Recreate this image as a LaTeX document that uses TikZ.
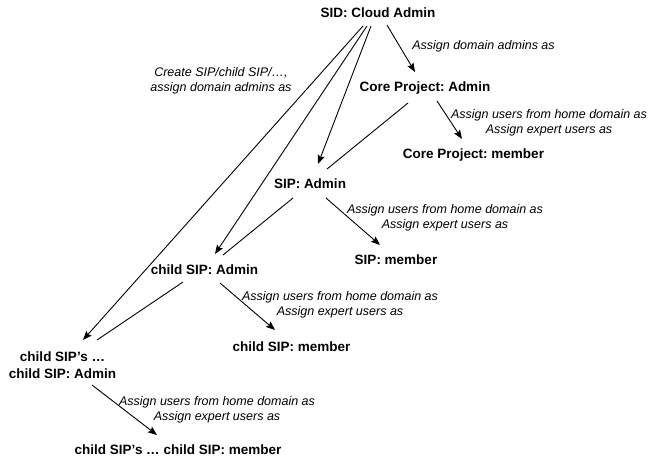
\documentclass[tikz,border=0pt]{standalone}
\usepackage{fontspec}
\setmainfont{Liberation Sans}
\usetikzlibrary{calc,arrows.meta}
\frenchspacing
\begin{document}
\begin{tikzpicture}[x=1pt,y=-1pt,
  role/.style={font=\fontsize{13.5}{17}\selectfont\bfseries, align=center, inner sep=0pt},
  note/.style={font=\fontsize{12.5}{15.5}\selectfont\itshape, align=center, inner sep=0pt},
  link/.style={line width=0.9pt},
  grant/.style={line width=0.9pt, -{Stealth[length=9pt,width=7pt,inset=1.5pt]}}]
\useasboundingbox (0,0) rectangle (650,459);

% roles
\node[role] (sid)   at (378,13)    {SID: Cloud Admin};
\node[role] (core)  at (425,88)    {Core Project: Admin};
\node[role] (corem) at (473.5,155) {Core Project: member};
\node[role] (sip)   at (310,184)   {SIP: Admin};
\node[role] (sipm)  at (396,260)   {SIP: member};
\node[role] (csip)  at (204.5,270) {child SIP: Admin};
\node[role] (csipm) at (291.5,347) {child SIP: member};
\node[role] (nsip)  at (62.5,365)  {child SIP’s …\\child SIP: Admin};
\node[role] (nsipm) at (178,450)   {child SIP’s … child SIP: member};

% annotations
\node[note] (lcore)  at (483.5,46) {Assign domain admins as};
\node[note] (lcreate) at (221,81)  {Create SIP/child SIP/…,\\assign domain admins as};
\node[note] (lcorem) at (549,123)  {Assign users from home domain as\\Assign expert users as};
\node[note] (lsipm)  at (445,218)  {Assign users from home domain as\\Assign expert users as};
\node[note] (lcsipm) at (340,305)  {Assign users from home domain as\\Assign expert users as};
\node[note] (lnsipm) at (217,410)  {Assign users from home domain as\\Assign expert users as};

% cloud admin grants
\draw[grant] ($(sid.center)+(-15,13)$) -- ($(nsip.center)+(20.5,-25)$);
\draw[grant] ($(sid.center)+(-11,13)$) -- ($(csip.center)+(10.5,-16)$);
\draw[grant] ($(sid.center)+(-7,13)$)  -- ($(sip.center)+(8,-20)$);
\draw[grant] ($(sid.center)+(9,12)$)   -- ($(core.center)+(-10,-16)$);

% links between admin levels
\draw[link] ($(core.center)+(-17,15)$)   -- ($(sip.center)+(17,-15)$);
\draw[link] ($(sip.center)+(-17,14)$)    -- ($(csip.center)+(18.5,-15)$);
\draw[link] ($(csip.center)+(-21.5,12)$) -- ($(nsip.center)+(34.5,-25)$);

% member grants
\draw[grant] ($(core.center)+(12,13)$)   -- ($(corem.center)+(-11.5,-16)$);
\draw[grant] ($(sip.center)+(16,14)$)    -- ($(sipm.center)+(-16,-15)$);
\draw[grant] ($(csip.center)+(15.5,13)$) -- ($(csipm.center)+(-16.5,-17)$);
\draw[grant] ($(nsip.center)+(29.5,20)$) -- ($(nsipm.center)+(-21,-15)$);
\end{tikzpicture}
\end{document}
